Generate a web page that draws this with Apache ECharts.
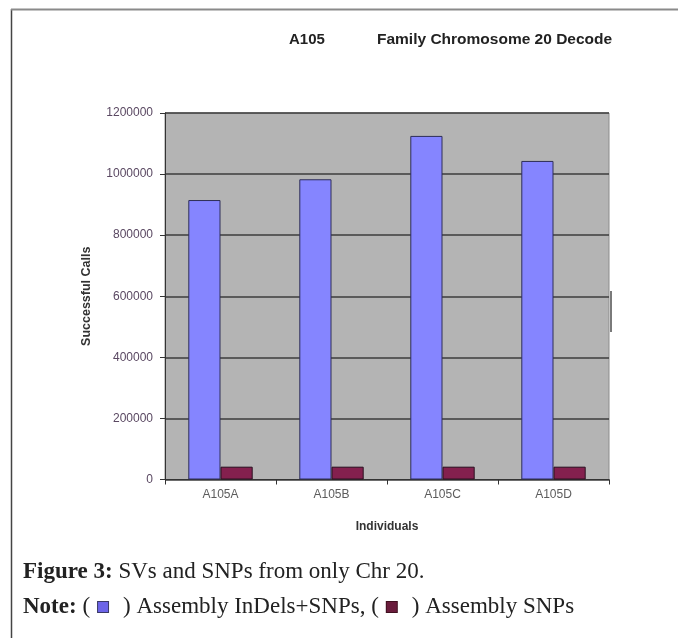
<!DOCTYPE html>
<html>
<head>
<meta charset="utf-8">
<script src="https://cdn.jsdelivr.net/npm/echarts@6/dist/echarts.min.js"></script>
<style>
  html, body { margin: 0; padding: 0; background: #fff; }
  #chart { width: 678px; height: 638px; }
</style>
</head>
<body>
<div id="chart"></div>
<script>
const categories = ['A105A', 'A105B', 'A105C', 'A105D'];
const indelsSnps = [915000, 983000, 1125000, 1043000];
const snps = [42000, 42000, 42000, 42000];
const yTicks = { min: 0, max: 1200000, interval: 200000 };
const seriesNames = ['Assembly InDels+SNPs', 'Assembly SNPs'];

const chart = echarts.init(document.getElementById('chart'), null, { renderer: 'canvas' });
const sans = '"Liberation Sans", Arial, sans-serif';
const serif = '"Liberation Serif", "Times New Roman", serif';

chart.setOption({
  animation: false,
  backgroundColor: '#ffffff',
  grid: {
    left: 165, top: 113, width: 444, height: 366.5,
    show: true, backgroundColor: '#b4b4b4', borderColor: '#8c8c8c', borderWidth: 1
  },
  xAxis: {
    type: 'category',
    data: categories,
    name: 'Individuals',
    nameLocation: 'middle',
    nameGap: 41,
    nameTextStyle: { fontFamily: sans, fontWeight: 'bold', fontSize: 12, color: '#333' },
    axisLine: { lineStyle: { color: '#333', width: 1 } },
    axisTick: { show: true, length: 5, lineStyle: { color: '#333' } },
    axisLabel: { fontFamily: sans, fontSize: 12, color: '#5c5c5c', margin: 9 }
  },
  yAxis: {
    type: 'value',
    min: yTicks.min, max: yTicks.max, interval: yTicks.interval,
    name: 'Successful Calls',
    nameLocation: 'middle',
    nameGap: 72,
    nameRotate: 90,
    nameTextStyle: { fontFamily: sans, fontWeight: 'bold', fontSize: 12.5, color: '#333' },
    axisLine: { show: true, lineStyle: { color: '#333', width: 1 } },
    axisTick: { show: true, length: 5, lineStyle: { color: '#333' } },
    axisLabel: { fontFamily: sans, fontSize: 12, color: '#5a4862', margin: 12, formatter: v => String(v) },
    splitLine: { lineStyle: { color: '#3c3c3c', width: 1.5 } }
  },
  series: [
    {
      name: seriesNames[0], type: 'bar', data: indelsSnps,
      barGap: '0%', barCategoryGap: '42%',
      itemStyle: { color: '#8585ff', borderColor: '#2e2e58', borderWidth: 1 }
    },
    {
      name: seriesNames[1], type: 'bar', data: snps,
      barGap: '0%', barCategoryGap: '42%',
      itemStyle: { color: '#84204e', borderColor: '#2a1020', borderWidth: 1 }
    }
  ],
  graphic: [
    { type: 'line', shape: { x1: 11.5, y1: 9, x2: 11.5, y2: 638 }, style: { stroke: '#444', lineWidth: 1.5 } },
    { type: 'line', shape: { x1: 11, y1: 9.5, x2: 678, y2: 9.5 }, style: { stroke: '#8a8a8a', lineWidth: 2 } },
    { type: 'rect', shape: { x: 610, y: 291, width: 2, height: 41 }, style: { fill: '#7a7a7a' } },
    { type: 'text', x: 289, y: 40, style: { text: 'A105', font: 'bold 15px ' + sans, fill: '#222', verticalAlign: 'middle' } },
    { type: 'text', x: 377, y: 40, style: { text: 'Family Chromosome 20 Decode', font: 'bold 15.5px ' + sans, fill: '#222', verticalAlign: 'middle' } },
    { type: 'text', x: 23, y: 572, style: {
        text: '{b|Figure 3:} SVs and SNPs from only Chr 20.',
        font: '23px ' + serif, fill: '#222', verticalAlign: 'middle',
        rich: { b: { fontFamily: serif, fontWeight: 'bold', fontSize: 23, fill: '#222' } }
    } },
    { type: 'text', x: 23, y: 607, style: {
        text: '{b|Note:} ({ga| }{s1| }{gb| }) Assembly InDels+SNPs, ({ga| }{s2| }{gb| }) Assembly SNPs',
        font: '23px ' + serif, fill: '#222', verticalAlign: 'middle',
        rich: {
          b: { fontFamily: serif, fontWeight: 'bold', fontSize: 23, fill: '#222' },
          ga: { width: 8 },
          gb: { width: 15 },
          s1: { width: 10, height: 10, backgroundColor: '#6c64e8', borderColor: '#3a3a66', borderWidth: 1 },
          s2: { width: 10, height: 10, backgroundColor: '#6a1c3c', borderColor: '#40101f', borderWidth: 1 }
        }
    } }
  ]
});
</script>
</body>
</html>
